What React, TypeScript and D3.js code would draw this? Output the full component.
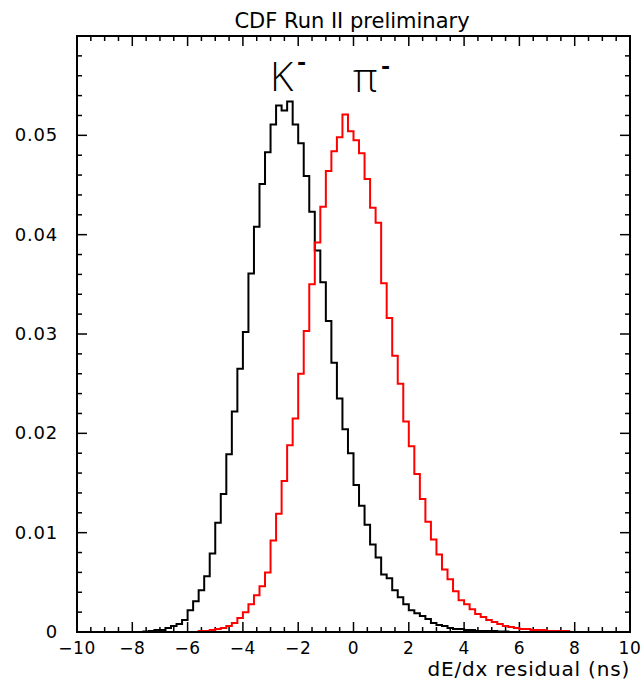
import React from "react";
import * as d3 from "d3";

// Histogram: 100 bins of width 0.2 from -10 to 10
const BIN_START = -10;
const BIN_WIDTH = 0.2;

// K- (black)
const kaonValues: number[] = [
  0, 0, 0, 0, 0, 0, 0, 0, 0, 0, 0, 0,
  0.00005, 0.0001, 0.0002, 0.0002, 0.0004, 0.0006, 0.0008, 0.0012,
  0.0022, 0.0031, 0.0042, 0.0056, 0.0079, 0.0110, 0.0139, 0.0179, 0.0222, 0.0265,
  0.0302, 0.0361, 0.0408, 0.0451, 0.0483, 0.0511, 0.0530, 0.0525, 0.0534, 0.0511,
  0.0492, 0.0459, 0.0423, 0.0384, 0.0352, 0.0313, 0.0271, 0.0235, 0.0204, 0.0180,
  0.0148, 0.0127, 0.0108, 0.0088, 0.0075, 0.0058, 0.0054, 0.0042, 0.0035, 0.0028,
  0.0022, 0.0019, 0.0016, 0.0013, 0.0009, 0.0007, 0.0006, 0.0004, 0.0003, 0.0003,
  0.0002, 0.0002, 0.0001, 0.0001, 0.0001, 0.0001, 0.00005, 0.00005, 0, 0,
  0, 0, 0, 0, 0, 0, 0, 0, 0, 0, 0, 0, 0, 0, 0, 0, 0, 0, 0, 0,
];

// pi- (red)
const pionValues: number[] = [
  0, 0, 0, 0, 0, 0, 0, 0, 0, 0, 0, 0, 0, 0, 0, 0, 0, 0, 0, 0, 0, 0,
  0.0001, 0.0001, 0.0002, 0.0003, 0.0004, 0.0006, 0.0009, 0.0014,
  0.0020, 0.0028, 0.0037, 0.0046, 0.0060, 0.0092, 0.0119, 0.0152, 0.0188, 0.0215,
  0.0260, 0.0303, 0.0350, 0.0392, 0.0428, 0.0464, 0.0484, 0.0498, 0.0521, 0.0504,
  0.0495, 0.0482, 0.0456, 0.0427, 0.0412,
  0.0351, 0.0316, 0.0278, 0.0250, 0.0212, 0.0187, 0.0159, 0.0134, 0.0111, 0.0093,
  0.0078, 0.0063, 0.0053, 0.0041, 0.0032, 0.0028, 0.0023, 0.0018, 0.0015, 0.0012,
  0.0010, 0.0008, 0.0006, 0.0005, 0.0004, 0.0003, 0.0003, 0.0002, 0.0002, 0.0002,
  0.0001, 0.0001, 0.0001, 0.0001,
  0, 0, 0, 0, 0, 0, 0, 0, 0, 0, 0,
];

const xMajorTicks = [-10, -8, -6, -4, -2, 0, 2, 4, 6, 8, 10];
const yMajorTicks = [0, 0.01, 0.02, 0.03, 0.04, 0.05];
const yTickLabels = ["0", "0.01", "0.02", "0.03", "0.04", "0.05"];

const TITLE = "CDF Run II preliminary";
const X_TITLE = "dE/dx residual (ns)";

const W = 642;
const H = 681;
const L = 77;
const R = 630;
const T = 36;
const B = 632;

const FONT = "DejaVu Sans, Verdana, sans-serif";
const THIN = "'Open Sans', 'Liberation Sans', sans-serif";

export default function App() {
  const x = d3.scaleLinear().domain([-10, 10]).range([L, R]);
  const y = d3.scaleLinear().domain([0, 0.06]).range([B, T]);

  const stepPath = (vals: number[]) => {
    const pts: [number, number][] = vals.map((v, i) => [BIN_START + i * BIN_WIDTH, v]);
    pts.push([BIN_START + vals.length * BIN_WIDTH, vals[vals.length - 1]]);
    return d3
      .line<[number, number]>()
      .x((d) => x(d[0]))
      .y((d) => y(d[1]))
      .curve(d3.curveStepAfter)(pts) as string;
  };

  const xMinor = d3.range(-10, 10.001, 0.5);
  const yMinor = d3.range(0, 0.0601, 0.002);
  const isMajorX = (v: number) => Math.abs(v / 2 - Math.round(v / 2)) < 1e-6;
  const isMajorY = (v: number) => Math.abs(v / 0.01 - Math.round(v / 0.01)) < 1e-6;
  const MAJ = 10;
  const MIN = 5;

  return (
    <svg
      width={W}
      height={H}
      viewBox={`0 0 ${W} ${H}`}
      style={{ position: "absolute", left: 0, top: 0, background: "#fff" }}
    >
      <rect x={0} y={0} width={W} height={H} fill="#fff" />
      <text x={352} y={28} textAnchor="middle" fontFamily={FONT} fontSize={21} fill="#000">
        {TITLE}
      </text>

      {/* ticks */}
      <g stroke="#000" strokeWidth={1.5}>
        {xMinor.map((v, i) => {
          const len = isMajorX(v) ? MAJ : MIN;
          const px = x(v);
          return (
            <g key={"xt" + i}>
              <line x1={px} x2={px} y1={B} y2={B - len} />
              <line x1={px} x2={px} y1={T} y2={T + len} />
            </g>
          );
        })}
        {yMinor.map((v, i) => {
          const len = isMajorY(v) ? MAJ : MIN;
          const py = y(v);
          return (
            <g key={"yt" + i}>
              <line x1={L} x2={L + len} y1={py} y2={py} />
              <line x1={R} x2={R - len} y1={py} y2={py} />
            </g>
          );
        })}
      </g>

      {/* histograms */}
      <path d={stepPath(kaonValues)} fill="none" stroke="#000" strokeWidth={2} />
      <path d={stepPath(pionValues)} fill="none" stroke="#ff0000" strokeWidth={2} />

      {/* frame */}
      <rect x={L} y={T} width={R - L} height={B - T} fill="none" stroke="#000" strokeWidth={2} />

      {/* tick labels */}
      {xMajorTicks.map((v) => (
        <text
          key={"xl" + v}
          x={x(v)}
          y={654}
          textAnchor="middle"
          fontFamily={FONT}
          fontSize={17}
          letterSpacing={0.6}
          fill="#000"
        >
          {v < 0 ? "\u2212" + Math.abs(v) : String(v)}
        </text>
      ))}
      {yMajorTicks.map((v, i) => (
        <text
          key={"yl" + i}
          x={58}
          y={y(v) + 6}
          textAnchor="end"
          fontFamily={FONT}
          fontSize={18}
          letterSpacing={0.8}
          fill="#000"
        >
          {yTickLabels[i]}
        </text>
      ))}

      <text
        x={630}
        y={676}
        textAnchor="end"
        fontFamily={FONT}
        fontSize={20}
        letterSpacing={0.8}
        fill="#000"
      >
        {X_TITLE}
      </text>

      {/* particle labels */}
      <text x={270} y={91} fontFamily={THIN} fontSize={40} fontWeight={300} fill="#000">
        K
      </text>
      <text x={297} y={70} fontFamily={FONT} fontSize={22} fontWeight={700} fill="#000">
        -
      </text>
      <text x={353} y={92} fontFamily={THIN} fontSize={40} fontWeight={300} fill="#000">
        π
      </text>
      <text x={381} y={74} fontFamily={FONT} fontSize={22} fontWeight={700} fill="#000">
        -
      </text>
    </svg>
  );
}
